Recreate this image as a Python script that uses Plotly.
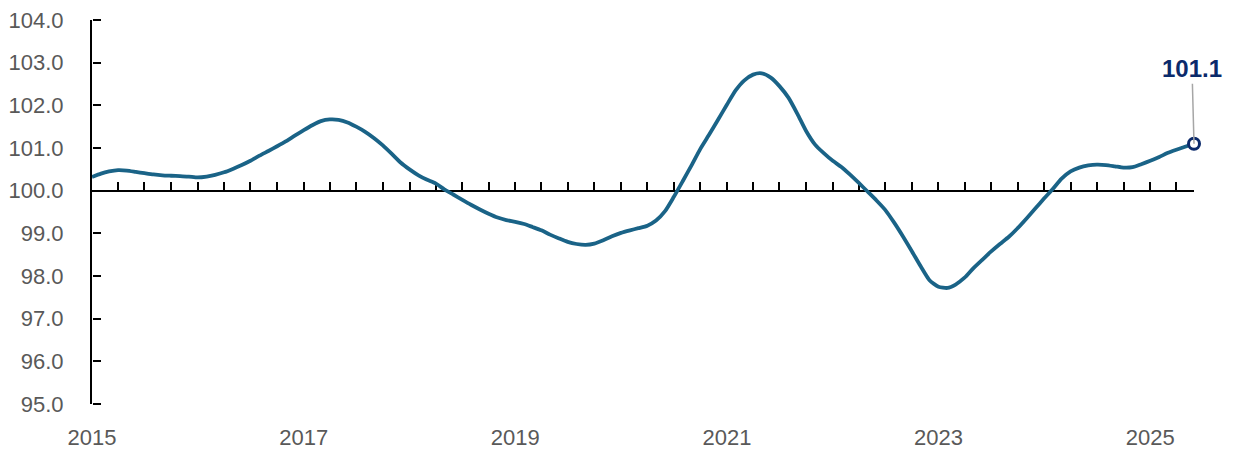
import pandas as pd
import plotly.graph_objects as go

start_month = "2015-01-01"
values = [
    100.32, 100.40, 100.45, 100.48, 100.47, 100.44, 100.41, 100.38, 100.36, 100.35, 100.34, 100.33,
    100.31, 100.33, 100.37, 100.43, 100.51, 100.60, 100.70, 100.82, 100.93, 101.04, 101.16, 101.29,
    101.42, 101.54, 101.63, 101.67, 101.66, 101.60, 101.50, 101.38, 101.23, 101.06, 100.86, 100.66,
    100.50, 100.36, 100.26, 100.17, 100.03, 99.91, 99.79, 99.67, 99.56, 99.46, 99.37, 99.31,
    99.27, 99.22, 99.15, 99.07, 98.97, 98.88, 98.80, 98.75, 98.73, 98.76, 98.84, 98.93,
    99.01, 99.07, 99.12, 99.18, 99.30, 99.52, 99.85, 100.22, 100.60, 100.98, 101.32, 101.66,
    102.02, 102.36, 102.58, 102.72, 102.75, 102.65, 102.45, 102.18, 101.80, 101.40, 101.08, 100.88,
    100.70, 100.55, 100.38, 100.18, 99.98, 99.77, 99.55, 99.25, 98.92, 98.58, 98.22, 97.90,
    97.75, 97.72, 97.80, 97.96, 98.18, 98.38, 98.57, 98.75, 98.92, 99.12, 99.35, 99.58,
    99.82, 100.05, 100.28, 100.45, 100.54, 100.59, 100.61, 100.60, 100.57, 100.54, 100.55, 100.62,
    100.70, 100.79, 100.88, 100.96, 101.03, 101.10,
]
months = pd.date_range(start_month, periods=len(values), freq="MS")
last_label = "101.1"
y_range = [95, 104]

LINE = "#1A6387"
NAVY = "#0B2A6B"
GREY = "#595959"
FONT = "Liberation Sans"

fig = go.Figure()
fig.add_trace(go.Scatter(
    x=months, y=values, mode="lines",
    line=dict(color=LINE, width=3.8, shape="spline", smoothing=0.6),
    xaxis="x", yaxis="y", hoverinfo="skip", showlegend=False, cliponaxis=False,
))
fig.add_trace(go.Scatter(
    x=[months[-1]], y=[values[-1]], mode="markers",
    marker=dict(size=11, color="white", line=dict(color=NAVY, width=3)),
    xaxis="x2", yaxis="y", hoverinfo="skip", showlegend=False, cliponaxis=False,
))
# invisible helper trace so the tick-only y axis (y2) is drawn
fig.add_trace(go.Scatter(
    x=[months[-1]], y=[values[-1]], mode="markers", marker=dict(opacity=0),
    xaxis="x", yaxis="y2", hoverinfo="skip", showlegend=False,
))

x_range = [months[0], months[-1]]

fig.add_annotation(
    x=months[-1], y=values[-1], xref="x2", yref="y",
    text=f"<b>{last_label}</b>", showarrow=True, arrowhead=0,
    arrowwidth=1.5, arrowcolor="#A6A6A6", ax=-2, ay=-75,
    font=dict(family=FONT, size=24, color=NAVY), standoff=0,
)

fig.update_layout(
    width=1234, height=451,
    margin=dict(l=92, r=40, t=20, b=47, autoexpand=False),
    paper_bgcolor="white", plot_bgcolor="white",
    showlegend=False,
    xaxis=dict(
        type="date", range=x_range, showline=False, showgrid=False, zeroline=False,
        ticks="", tick0=start_month, dtick="M24", tickformat="%Y",
        tickfont=dict(family=FONT, size=22, color=GREY), ticklabelstandoff=18,
        automargin=False,
    ),
    xaxis2=dict(
        type="date", range=x_range, overlaying="x", anchor="free",
        position=5 / 9, side="bottom", showline=True, linecolor="black", linewidth=2,
        ticks="inside", ticklen=8, tickwidth=2, tickcolor="black",
        tick0=start_month, dtick="M3", showticklabels=False, showgrid=False,
        zeroline=False, layer="below traces", automargin=False,
    ),
    yaxis=dict(
        range=y_range, dtick=1, tickformat=".1f", showline=True, linecolor="black",
        linewidth=2, ticks="", showgrid=False, zeroline=False, side="left",
        tickfont=dict(family=FONT, size=22, color=GREY), ticklabelstandoff=22,
        automargin=False,
    ),
    yaxis2=dict(
        range=y_range, dtick=1, overlaying="y", anchor="free", position=0,
        side="right", showline=False,
        ticks="outside", ticklen=8, tickwidth=2, tickcolor="black",
        showticklabels=False, showgrid=False, zeroline=False, automargin=False,
    ),
)

fig.write_html("out.html")
